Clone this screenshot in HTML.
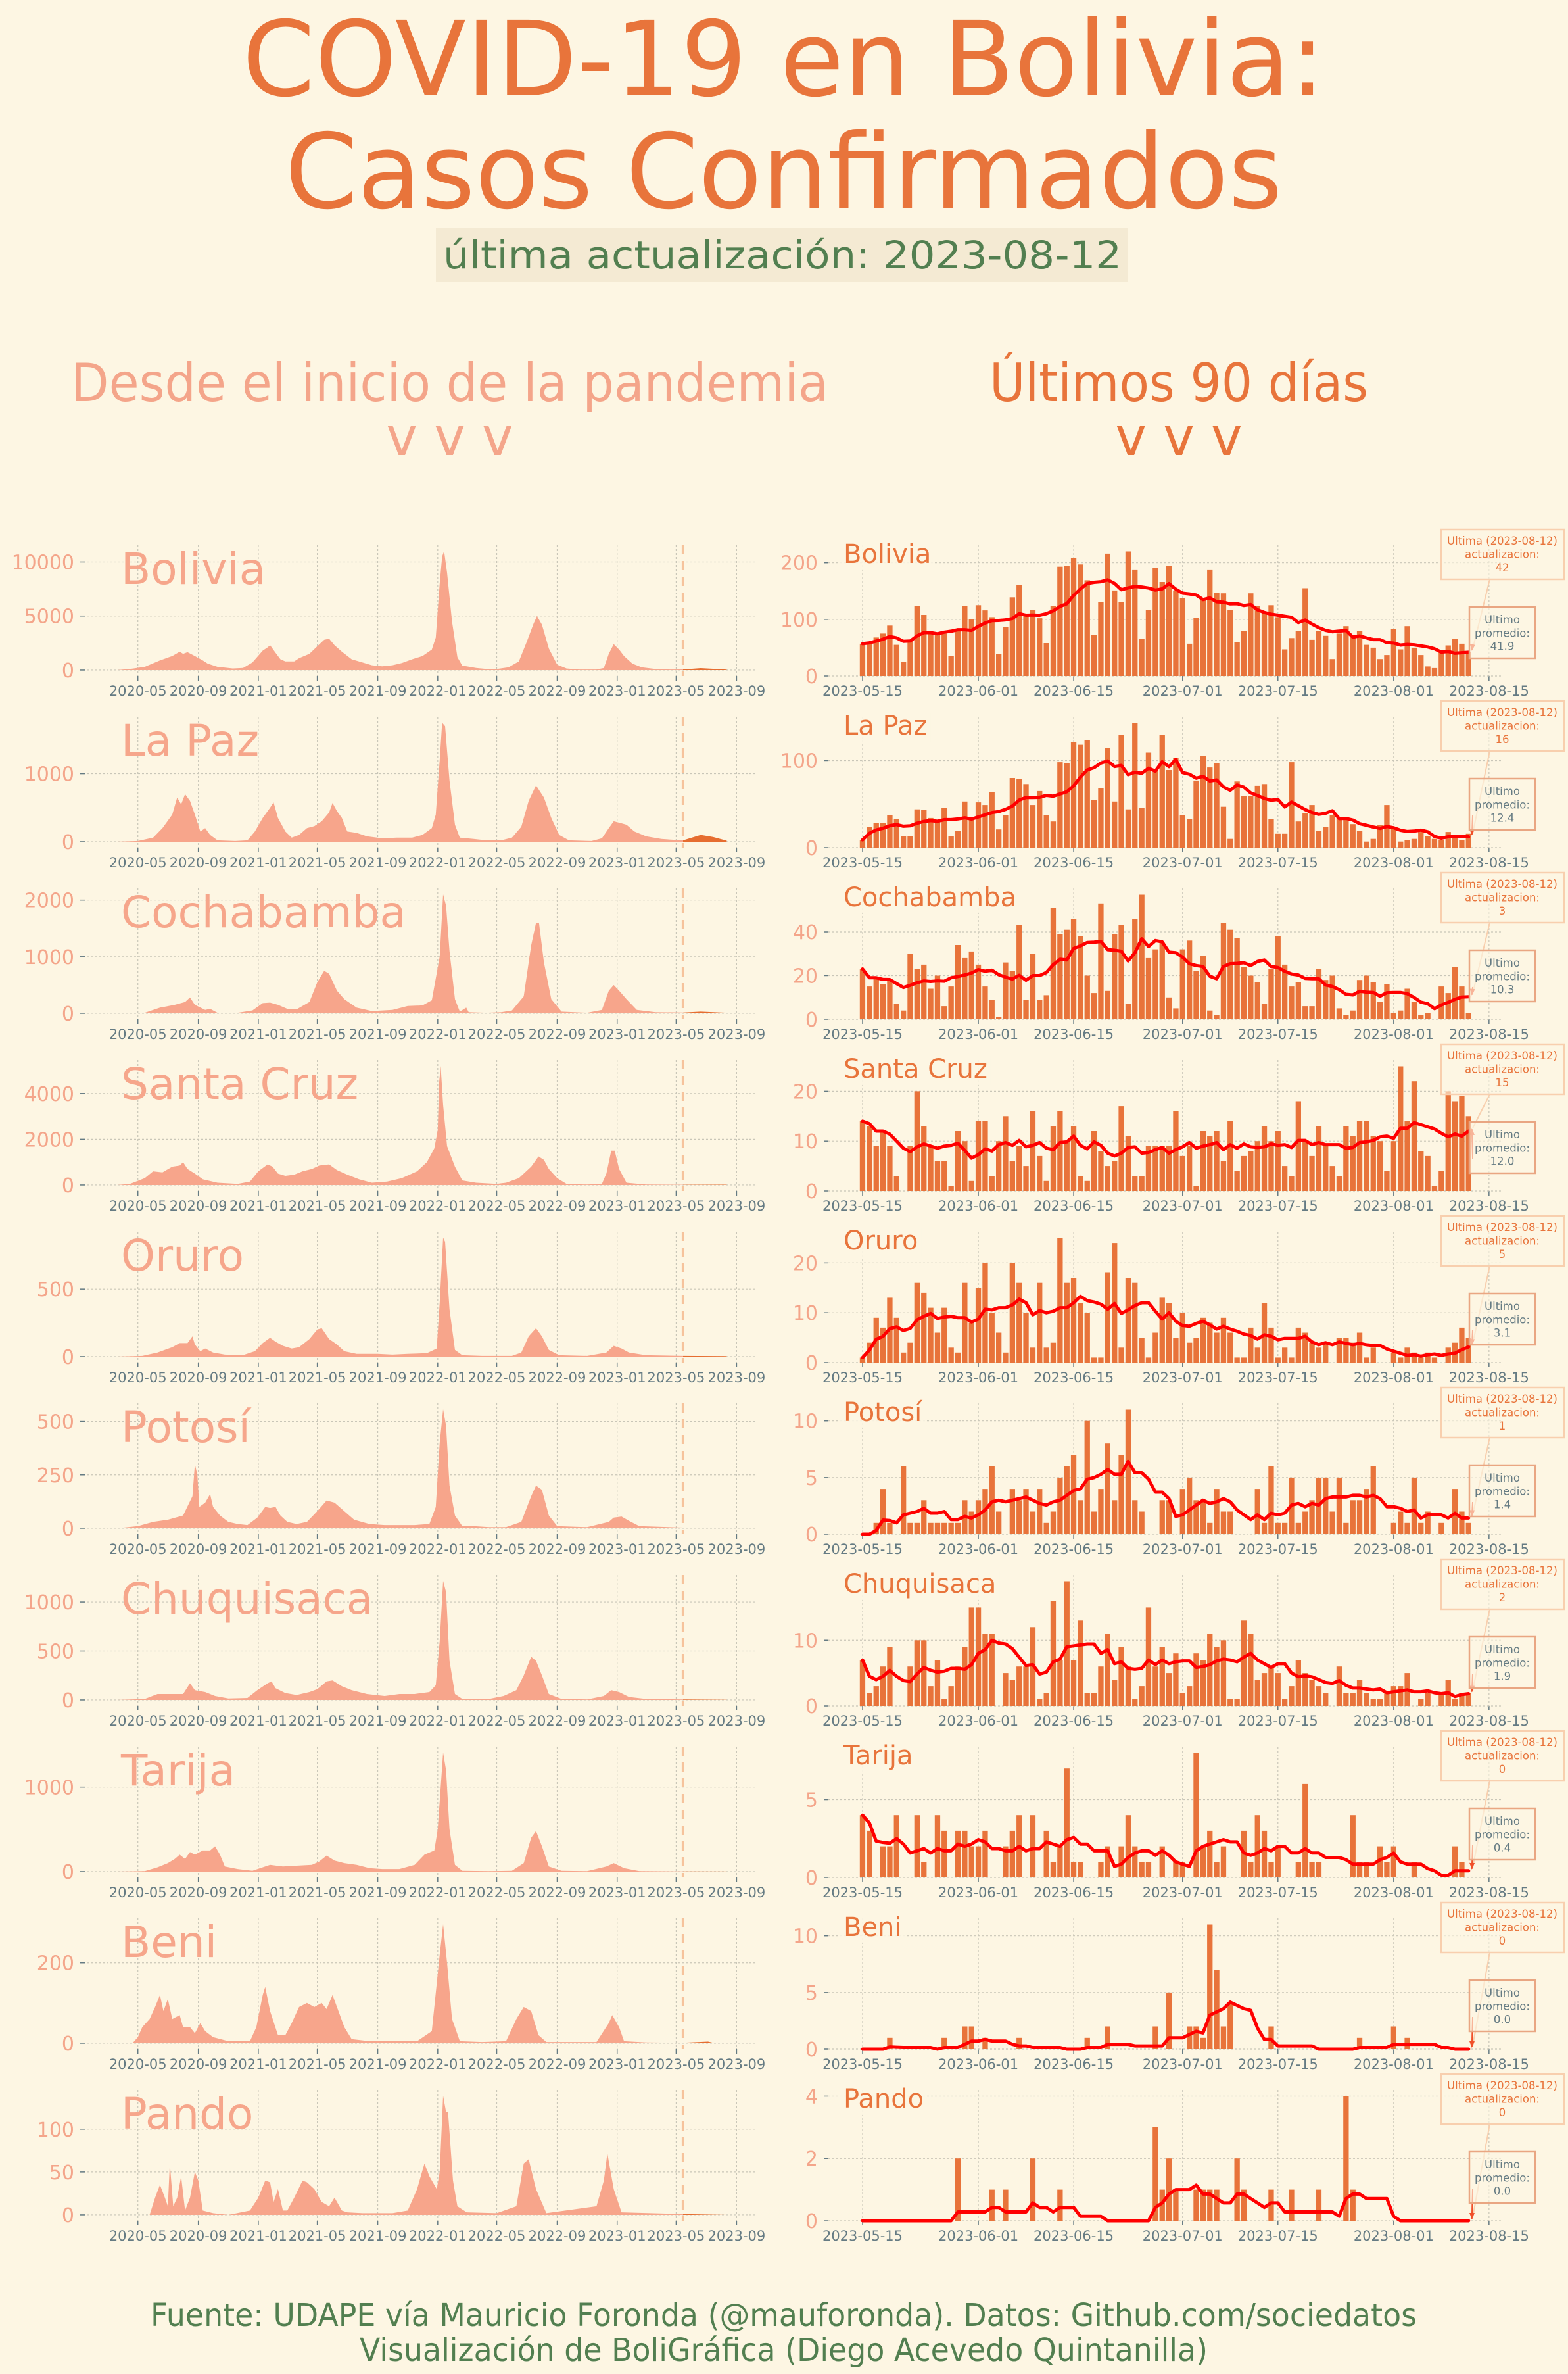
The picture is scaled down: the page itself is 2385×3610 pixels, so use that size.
<!DOCTYPE html>
<html><head><meta charset="utf-8"><title>COVID-19 en Bolivia</title>
<style>
html,body{margin:0;padding:0;background:#fdf6e3;}
svg{display:block;font-family:"DejaVu Sans","Liberation Sans",sans-serif;}
</style></head>
<body>
<svg id="chart" xmlns="http://www.w3.org/2000/svg" width="2385" height="3610" viewBox="0 0 2385 3610">
<rect x="0" y="0" width="2385" height="3610" fill="#fdf6e3"/>
<text x="1192" y="145" font-size="158" fill="#e8743b" text-anchor="middle" textLength="1647" lengthAdjust="spacingAndGlyphs">COVID-19 en Bolivia:</text>
<text x="1192" y="316" font-size="158" fill="#e8743b" text-anchor="middle">Casos Confirmados</text>
<rect x="663" y="347" width="1053" height="82" fill="#f4ead3"/>
<text x="1190" y="408" font-size="58" fill="#527f50" text-anchor="middle" textLength="1032" lengthAdjust="spacingAndGlyphs">última actualización: 2023-08-12</text>
<text x="684" y="610" font-size="80" fill="#f4a58a" text-anchor="middle" textLength="1152" lengthAdjust="spacingAndGlyphs">Desde el inicio de la pandemia</text>
<text x="684" y="692" font-size="80" fill="#f4a58a" text-anchor="middle">v v v</text>
<text x="1793" y="610" font-size="80" fill="#e8743b" text-anchor="middle" textLength="576" lengthAdjust="spacingAndGlyphs">Últimos 90 días</text>
<text x="1793" y="692" font-size="80" fill="#e8743b" text-anchor="middle">v v v</text>
<text x="1192" y="3537" font-size="48" fill="#527f50" text-anchor="middle" textLength="1926" lengthAdjust="spacingAndGlyphs">Fuente: UDAPE vía Mauricio Foronda (@mauforonda). Datos: Github.com/sociedatos</text>
<text x="1192" y="3590" font-size="48" fill="#527f50" text-anchor="middle" textLength="1290" lengthAdjust="spacingAndGlyphs">Visualización de BoliGráfica (Diego Acevedo Quintanilla)</text>
<defs>
<clipPath id="clipOld" clipPathUnits="userSpaceOnUse"><rect x="0" y="0" width="1039" height="3610"/></clipPath>
<clipPath id="clipNew" clipPathUnits="userSpaceOnUse"><rect x="1039" y="0" width="200" height="3610"/></clipPath>
<marker id="arrowHead" markerWidth="10" markerHeight="10" refX="9" refY="5" orient="auto" markerUnits="userSpaceOnUse"><path d="M0,1 L10,5 L0,9 Z" fill="#f0502a"/></marker>
</defs>
<g id="panels"></g>
</svg>
<script>
const regions=["Bolivia","La Paz","Cochabamba","Santa Cruz","Oruro","Potosí","Chuquisaca","Tarija","Beni","Pando"];
const leftYTicks=[[0,5000,10000],[0,1000],[0,1000,2000],[0,2000,4000],[0,500],[0,250,500],[0,500,1000],[0,1000],[0,200],[0,50,100]];
const rightYTicks=[[0,100,200],[0,100],[0,20,40],[0,10,20],[0,10,20],[0,5,10],[0,10],[0,5],[0,5,10],[0,2,4]];
const leftXTicks=["2020-05","2020-09","2021-01","2021-05","2021-09","2022-01","2022-05","2022-09","2023-01","2023-05","2023-09"];
const rightXTicks=["2023-05-15","2023-06-01","2023-06-15","2023-07-01","2023-07-15","2023-08-01","2023-08-15"];
const recentStart="2023-05-15";
const lastDate="2023-08-12";

const histBolivia=[["20-03-20",0],["20-04-15",100],["20-05-15",300],["20-06-15",900],["20-07-10",1300],["20-07-25",1700],["20-08-01",1500],["20-08-10",1650],["20-08-25",1300],["20-09-10",900],["20-09-20",600],["20-10-10",300],["20-11-10",150],["20-12-01",200],["20-12-20",700],["21-01-10",1800],["21-01-20",2100],["21-01-25",2300],["21-02-05",1600],["21-02-15",1000],["21-02-25",800],["21-03-15",800],["21-03-25",1100],["21-04-15",1500],["21-05-01",2200],["21-05-15",2800],["21-05-25",2900],["21-06-05",2300],["21-06-20",1700],["21-07-10",1000],["21-08-01",700],["21-08-20",450],["21-09-10",350],["21-10-01",450],["21-10-20",650],["21-11-10",1000],["21-12-01",1300],["21-12-20",1900],["21-12-28",3000],["22-01-05",8000],["22-01-10",10500],["22-01-14",11000],["22-01-20",9000],["22-01-30",4500],["22-02-10",1200],["22-02-20",400],["22-03-01",350],["22-03-20",200],["22-04-10",100],["22-05-01",100],["22-05-25",250],["22-06-15",800],["22-07-01",2600],["22-07-15",4300],["22-07-22",5000],["22-08-01",4200],["22-08-15",2000],["22-09-01",500],["22-09-20",150],["22-10-15",50],["22-11-20",50],["22-12-05",200],["22-12-15",1500],["22-12-25",2400],["23-01-05",1900],["23-01-15",1300],["23-02-01",600],["23-02-20",250],["23-03-20",100],["23-04-20",50],["23-05-15",60],["23-06-20",180],["23-07-15",120],["23-08-12",45]];
const histLaPaz=[["20-03-20",0],["20-05-01",10],["20-06-01",60],["20-06-20",200],["20-07-10",400],["20-07-20",650],["20-07-28",550],["20-08-05",700],["20-08-15",600],["20-08-25",400],["20-09-05",150],["20-09-15",200],["20-09-25",100],["20-10-10",20],["20-11-15",10],["20-12-10",20],["20-12-25",150],["21-01-10",350],["21-01-25",500],["21-02-01",580],["21-02-10",350],["21-02-25",150],["21-03-10",60],["21-03-25",100],["21-04-10",200],["21-04-25",230],["21-05-10",300],["21-05-25",430],["21-06-01",570],["21-06-10",450],["21-06-20",350],["21-07-01",150],["21-07-20",130],["21-08-10",80],["21-09-10",50],["21-10-10",60],["21-11-10",60],["21-12-01",100],["21-12-20",200],["21-12-28",400],["22-01-05",1200],["22-01-10",1750],["22-01-16",1700],["22-01-25",900],["22-02-05",250],["22-02-15",60],["22-03-15",40],["22-04-10",20],["22-05-10",20],["22-06-01",60],["22-06-20",220],["22-07-05",600],["22-07-20",830],["22-08-05",650],["22-08-20",350],["22-09-05",100],["22-09-25",20],["22-11-10",10],["22-12-01",50],["22-12-15",200],["22-12-25",300],["23-01-10",270],["23-01-20",250],["23-02-05",150],["23-03-01",80],["23-04-01",40],["23-05-15",20],["23-06-20",100],["23-07-15",70],["23-08-12",15]];
const histCochabamba=[["20-03-20",0],["20-05-15",10],["20-06-15",100],["20-07-15",150],["20-08-05",200],["20-08-15",280],["20-08-25",150],["20-09-15",60],["20-09-25",80],["20-10-10",10],["20-11-20",10],["20-12-20",50],["21-01-10",180],["21-01-25",190],["21-02-10",150],["21-03-01",80],["21-03-20",70],["21-04-15",200],["21-05-01",550],["21-05-15",750],["21-05-25",700],["21-06-10",400],["21-06-25",250],["21-07-20",100],["21-08-20",40],["21-10-01",60],["21-11-01",130],["21-12-01",140],["21-12-20",230],["22-01-05",1000],["22-01-12",2100],["22-01-18",1900],["22-01-25",1100],["22-02-05",250],["22-02-15",30],["22-02-28",100],["22-03-05",20],["22-04-10",10],["22-05-10",20],["22-06-01",50],["22-06-25",300],["22-07-10",1200],["22-07-20",1600],["22-07-26",1600],["22-08-05",900],["22-08-20",250],["22-09-10",30],["22-11-01",10],["22-12-01",60],["22-12-15",400],["22-12-25",500],["23-01-05",400],["23-01-20",250],["23-02-10",60],["23-03-20",20],["23-05-15",15],["23-06-20",30],["23-08-12",10]];
const histSantaCruz=[["20-03-20",0],["20-04-15",50],["20-05-15",300],["20-06-01",600],["20-06-20",550],["20-07-10",800],["20-07-25",850],["20-08-01",1000],["20-08-10",700],["20-08-25",500],["20-09-10",250],["20-10-10",100],["20-11-20",50],["20-12-15",150],["21-01-01",600],["21-01-20",900],["21-01-30",800],["21-02-10",500],["21-02-25",400],["21-03-15",450],["21-04-01",600],["21-04-20",700],["21-05-05",850],["21-05-25",900],["21-06-10",650],["21-07-01",450],["21-07-25",250],["21-08-20",100],["21-09-20",150],["21-10-20",300],["21-11-20",600],["21-12-10",1000],["21-12-25",1600],["22-01-01",2400],["22-01-04",4500],["22-01-07",5200],["22-01-12",3500],["22-01-20",1700],["22-02-05",800],["22-02-20",200],["22-03-20",100],["22-05-01",50],["22-05-20",100],["22-06-15",300],["22-07-10",800],["22-07-25",1250],["22-08-05",1100],["22-08-15",700],["22-09-01",300],["22-09-20",50],["22-11-01",20],["22-12-01",50],["22-12-10",500],["22-12-20",1500],["22-12-27",1500],["23-01-05",700],["23-01-20",100],["23-03-01",20],["23-05-15",10],["23-08-12",12]];
const histOruro=[["20-03-20",0],["20-05-10",5],["20-06-10",30],["20-07-10",70],["20-07-25",100],["20-08-10",100],["20-08-20",150],["20-08-25",90],["20-09-05",40],["20-09-15",60],["20-10-01",30],["20-10-25",15],["20-11-30",10],["20-12-25",40],["21-01-10",100],["21-01-25",140],["21-02-05",110],["21-02-20",80],["21-03-10",60],["21-03-25",70],["21-04-15",130],["21-05-01",200],["21-05-10",210],["21-05-25",130],["21-06-10",90],["21-06-25",40],["21-07-20",20],["21-09-01",20],["21-10-01",15],["21-11-01",20],["21-12-10",25],["21-12-30",60],["22-01-05",400],["22-01-12",880],["22-01-16",850],["22-01-25",350],["22-02-05",50],["22-02-20",10],["22-04-01",5],["22-06-01",5],["22-06-20",30],["22-07-05",150],["22-07-20",210],["22-08-01",150],["22-08-15",50],["22-09-05",10],["22-11-01",5],["22-12-10",30],["22-12-25",80],["23-01-10",60],["23-01-25",30],["23-03-01",10],["23-05-15",5],["23-08-12",3]];
const histPotosi=[["20-03-20",0],["20-05-01",10],["20-06-01",30],["20-07-01",40],["20-08-01",60],["20-08-20",150],["20-08-25",300],["20-08-30",250],["20-09-03",100],["20-09-15",120],["20-09-25",160],["20-10-01",100],["20-10-15",60],["20-11-01",30],["20-11-20",20],["20-12-10",15],["20-12-30",50],["21-01-15",100],["21-01-25",95],["21-02-05",100],["21-02-15",60],["21-03-01",30],["21-03-20",20],["21-04-10",30],["21-05-01",80],["21-05-20",130],["21-06-05",120],["21-06-25",80],["21-07-15",40],["21-08-15",20],["21-09-15",15],["21-10-15",15],["21-11-15",15],["21-12-15",20],["21-12-28",100],["22-01-05",400],["22-01-12",557],["22-01-18",480],["22-01-25",200],["22-02-05",60],["22-02-20",10],["22-03-15",10],["22-04-15",5],["22-05-20",5],["22-06-20",30],["22-07-10",150],["22-07-20",200],["22-08-01",180],["22-08-15",60],["22-09-01",10],["22-11-01",5],["22-12-15",30],["22-12-25",50],["23-01-10",55],["23-01-25",35],["23-02-15",10],["23-05-15",3],["23-08-12",2]];
const histChuquisaca=[["20-03-20",0],["20-05-15",10],["20-06-10",60],["20-07-10",60],["20-08-01",60],["20-08-15",170],["20-08-25",100],["20-09-15",80],["20-10-05",40],["20-11-01",15],["20-12-10",20],["20-12-30",100],["21-01-20",170],["21-01-28",190],["21-02-05",120],["21-02-25",70],["21-03-20",50],["21-04-15",80],["21-05-01",110],["21-05-20",190],["21-06-01",200],["21-06-20",140],["21-07-10",100],["21-08-10",60],["21-09-15",40],["21-10-15",60],["21-11-15",60],["21-12-15",80],["21-12-28",150],["22-01-05",600],["22-01-12",1215],["22-01-18",1100],["22-01-25",400],["22-02-05",60],["22-02-20",10],["22-04-15",10],["22-05-15",40],["22-06-10",100],["22-06-25",250],["22-07-10",440],["22-07-20",400],["22-08-01",250],["22-08-15",60],["22-09-10",10],["22-11-01",5],["22-12-05",40],["22-12-20",100],["23-01-05",80],["23-01-25",30],["23-03-01",10],["23-05-15",5],["23-08-12",2]];
const histTarija=[["20-03-20",0],["20-05-15",5],["20-06-10",50],["20-07-01",100],["20-07-15",150],["20-07-25",200],["20-08-05",150],["20-08-15",230],["20-08-25",200],["20-09-10",250],["20-09-25",250],["20-10-05",300],["20-10-15",200],["20-10-25",60],["20-11-20",30],["20-12-20",10],["21-01-10",50],["21-01-25",80],["21-02-20",60],["21-03-20",70],["21-04-20",80],["21-05-05",120],["21-05-20",190],["21-06-05",130],["21-06-25",100],["21-07-20",80],["21-08-15",40],["21-09-10",30],["21-10-15",30],["21-11-15",80],["21-12-05",200],["21-12-25",250],["22-01-01",500],["22-01-07",1000],["22-01-12",1410],["22-01-18",1200],["22-01-25",500],["22-02-05",80],["22-02-20",10],["22-04-15",5],["22-06-01",10],["22-06-25",100],["22-07-10",400],["22-07-20",480],["22-08-01",300],["22-08-15",60],["22-09-10",10],["22-11-01",5],["22-12-10",60],["22-12-25",100],["23-01-15",40],["23-02-15",5],["23-05-15",1],["23-08-12",0.5]];
const histBeni=[["20-03-20",0],["20-04-20",0],["20-05-01",15],["20-05-10",40],["20-05-25",60],["20-06-05",90],["20-06-15",120],["20-06-22",80],["20-07-01",110],["20-07-10",60],["20-07-25",70],["20-08-01",40],["20-08-15",40],["20-08-25",25],["20-09-05",50],["20-09-15",30],["20-10-01",15],["20-11-01",5],["20-12-15",5],["20-12-28",40],["21-01-10",120],["21-01-15",140],["21-01-25",80],["21-02-10",20],["21-02-25",20],["21-03-10",50],["21-03-25",90],["21-04-10",100],["21-04-25",90],["21-05-10",100],["21-05-20",85],["21-06-01",120],["21-06-10",90],["21-06-25",40],["21-07-10",10],["21-08-15",5],["21-10-01",5],["21-11-20",5],["21-12-20",30],["22-01-05",220],["22-01-12",296],["22-01-20",200],["22-01-30",60],["22-02-05",40],["22-02-15",5],["22-04-01",3],["22-05-20",5],["22-06-10",60],["22-06-25",90],["22-07-10",80],["22-07-25",20],["22-08-10",3],["22-11-20",3],["22-12-15",50],["22-12-22",70],["23-01-05",40],["23-01-15",5],["23-03-01",2],["23-05-15",1],["23-07-05",4],["23-07-15",1],["23-08-12",0]];
const histPando=[["20-03-20",0],["20-05-15",0],["20-05-25",0],["20-06-05",20],["20-06-15",35],["20-06-25",20],["20-07-01",10],["20-07-05",60],["20-07-12",10],["20-07-20",20],["20-07-28",45],["20-08-05",5],["20-08-15",20],["20-08-25",50],["20-09-01",40],["20-09-10",5],["20-10-01",2],["20-11-01",0],["20-12-15",5],["21-01-01",20],["21-01-15",40],["21-01-25",38],["21-02-01",15],["21-02-10",30],["21-02-20",5],["21-03-01",5],["21-03-15",20],["21-04-01",40],["21-04-10",38],["21-04-25",30],["21-05-10",15],["21-05-25",10],["21-06-05",20],["21-06-20",5],["21-07-01",3],["21-08-01",2],["21-10-01",2],["21-11-01",5],["21-11-20",30],["21-12-05",60],["21-12-15",45],["21-12-30",30],["22-01-05",50],["22-01-12",139],["22-01-18",120],["22-01-22",120],["22-02-01",40],["22-02-10",10],["22-03-01",3],["22-05-01",2],["22-06-10",10],["22-06-25",60],["22-07-05",65],["22-07-20",30],["22-08-10",2],["22-11-20",10],["22-12-05",40],["22-12-12",72],["22-12-25",30],["23-01-10",3],["23-05-15",1],["23-08-12",0]];
const histAll=[histBolivia,histLaPaz,histCochabamba,histSantaCruz,histOruro,histPotosi,histChuquisaca,histTarija,histBeni,histPando];

const dailyBolivia=[57,60,68,75,89,55,25,61,123,108,75,75,75,36,80,123,100,125,116,104,39,87,139,161,106,117,102,58,123,193,195,208,197,169,73,130,216,151,130,220,187,66,117,191,166,195,151,138,57,103,134,187,147,146,117,60,80,146,123,114,125,104,47,67,80,155,64,80,71,30,75,88,72,80,55,50,30,37,83,47,88,50,37,17,14,43,54,66,57,42];
const dailyLaPaz=[9,24,28,28,37,33,13,13,44,43,34,32,46,13,19,53,32,52,49,64,21,37,80,79,73,49,65,37,30,98,97,121,118,123,55,68,114,53,129,44,143,46,109,90,129,89,103,37,33,77,105,92,97,47,10,76,59,59,71,73,33,16,16,98,30,40,49,19,24,37,34,32,27,19,7,10,26,49,22,7,9,10,18,13,10,9,18,12,9,16];
const dailyCochabamba=[23,15,19,16,18,7,4,30,23,25,14,20,6,15,34,28,31,25,15,9,1,26,22,43,9,30,9,11,51,39,41,46,38,20,12,53,13,39,43,7,46,57,28,32,35,10,5,32,36,22,29,4,2,44,41,37,24,20,17,7,23,38,25,15,17,6,6,23,18,20,5,2,4,18,20,17,8,16,3,4,14,8,2,3,0,15,12,24,15,3];
const dailySantaCruz=[14,13,9,12,9,3,0,9,20,13,9,6,6,1,12,10,2,14,14,3,10,15,6,9,5,16,7,2,13,16,10,13,3,2,12,8,5,6,17,11,3,3,9,9,9,9,16,7,9,1,12,11,12,6,14,4,7,8,10,13,10,12,5,3,18,10,7,13,9,5,3,13,11,14,14,11,10,4,10,25,14,22,8,7,1,4,20,18,19,15];
const dailyOruro=[1,4,9,7,13,9,2,4,16,14,11,6,11,3,2,16,8,15,20,10,6,2,20,16,10,3,16,3,4,25,16,17,12,10,1,1,18,24,3,17,16,5,1,6,13,12,5,10,4,5,9,8,6,9,6,1,1,7,3,12,7,1,3,1,7,6,4,3,4,0,5,5,4,6,1,3,0,0,2,1,3,2,1,2,1,0,3,4,7,5];
const dailyPotosi=[0,0,1,4,1,0,6,1,1,3,1,1,1,1,1,3,2,3,4,6,2,0,4,3,4,2,4,1,2,5,6,7,3,10,2,4,8,3,7,11,3,2,0,0,3,3,0,4,5,3,3,1,4,2,2,0,0,0,4,1,6,1,1,5,1,2,3,5,5,2,5,1,3,3,4,6,0,0,1,2,1,5,1,2,0,1,0,4,2,1];
const dailyChuquisaca=[7,2,3,6,9,0,0,6,10,10,3,7,1,3,6,9,15,15,11,11,0,5,4,6,6,12,1,2,16,7,19,7,13,2,2,6,11,4,9,6,1,3,15,6,9,5,8,2,3,8,7,11,9,10,1,1,13,11,4,5,6,5,1,3,7,5,4,3,2,0,6,2,2,4,2,1,1,2,3,3,5,0,1,2,0,2,4,1,2,2];
const dailyTarija=[4,3,0,2,2,4,0,0,4,1,0,4,3,0,3,3,2,2,3,0,0,2,3,4,0,4,0,3,1,2,7,1,1,0,0,1,2,0,2,4,2,1,1,0,2,0,1,1,0,8,2,3,1,2,0,0,3,1,4,3,1,2,0,0,1,6,1,1,0,0,0,0,4,1,1,0,2,1,2,0,0,1,0,0,0,0,0,2,1,0];
const dailyBeni=[0,0,0,0,1,0,0,0,0,0,0,0,1,0,0,2,2,0,1,0,0,0,0,1,0,0,0,0,0,0,0,0,0,1,0,0,2,0,0,0,0,0,0,2,0,5,0,0,2,2,1,11,7,2,4,0,0,0,0,0,2,0,0,0,0,0,0,0,0,0,0,0,0,1,0,0,0,0,2,0,1,0,0,0,0,0,0,0,0,0];
const dailyPando=[0,0,0,0,0,0,0,0,0,0,0,0,0,0,2,0,0,0,0,1,0,1,0,0,0,2,0,0,0,1,0,0,0,0,0,0,0,0,0,0,0,0,0,3,1,2,1,0,0,1,1,1,1,0,0,2,1,0,0,0,1,0,0,1,0,0,0,1,0,0,0,4,1,0,0,0,0,0,0,0,0,0,0,0,0,0,0,0,0,0];
const dailyAll=[dailyBolivia,dailyLaPaz,dailyCochabamba,dailySantaCruz,dailyOruro,dailyPotosi,dailyChuquisaca,dailyTarija,dailyBeni,dailyPando];

const NS="http://www.w3.org/2000/svg";
const root=document.getElementById("panels");
function mk(tag,parent,attrs){const e=document.createElementNS(NS,tag);for(const k in attrs)e.setAttribute(k,attrs[k]);parent.appendChild(e);return e;}
function dayNum(s){return Date.parse(s+"T00:00:00Z")/864e5;}
const ROW=261, TOP0=829, AXH=199;
const GRID="#c9c6b8", TICKC="#657b83", SALMON="#f4a58a", ORANGE="#e8743b";
const leftOrigin=dayNum("2020-05-01");
function lx(s){return 209.7+(dayNum(s)-leftOrigin)*0.7477;}
const rOrigin=dayNum(recentStart);
function rx(k){return 1312+k*10.357;}
function rxDate(s){return rx(dayNum(s)-rOrigin);}
const dashX=lx(recentStart);

regions.forEach((name,i)=>{
  const T=TOP0+ROW*i, B=T+AXH;
  const lg=mk("g",root,{});
  
  
  const pts=histAll[i].map(p=>["20"+p[0],p[1]]);
  const M=Math.max(...pts.map(p=>p[1]));
  const lo=-0.05*M, hi=1.05*M;
  const ly=v=>B-(v-lo)/(hi-lo)*AXH;
  leftXTicks.forEach(t=>{
    const x=lx(t+"-01");
    const gl=mk("line",lg,{x1:x,x2:x,y1:T,y2:B,stroke:GRID,"stroke-width":1.2,"stroke-dasharray":"3,3"});
    
    
    const tk=mk("line",lg,{x1:x,x2:x,y1:B,y2:B+7,stroke:TICKC,"stroke-width":1.5});
    
    
    const tl=mk("text",lg,{x:x,y:B+30,"font-size":21,fill:TICKC,"text-anchor":"middle"});
    tl.textContent=t;
    
    
  });
  leftYTicks[i].forEach(v=>{
    const y=ly(v);
    const gl=mk("line",lg,{x1:126,x2:1152,y1:y,y2:y,stroke:GRID,"stroke-width":1.2,"stroke-dasharray":"3,3"});
    
    
    const tk=mk("line",lg,{x1:122,x2:129,y1:y,y2:y,stroke:TICKC,"stroke-width":1.5});
    
    
    const tl=mk("text",lg,{x:113,y:y+11,"font-size":30,fill:SALMON,"text-anchor":"end"});
    tl.textContent=v;
    
    
  });
  let d="M"+lx(pts[0][0])+","+ly(0);
  pts.forEach(p=>{d+=" L"+lx(p[0]).toFixed(1)+","+ly(p[1]).toFixed(1);});
  d+=" L"+lx(pts[pts.length-1][0]).toFixed(1)+","+ly(0)+" Z";
  const a1=mk("path",lg,{d:d,fill:"#f7a58b","clip-path":"url(#clipOld)"});
  
  
  const a2=mk("path",lg,{d:d,fill:"#e66d30","clip-path":"url(#clipNew)"});
  
  
  const dl=mk("line",lg,{x1:dashX,x2:dashX,y1:T,y2:B,stroke:"#f6c39c","stroke-width":4,"stroke-dasharray":"14,10"});
  
  
  const lt=mk("text",lg,{x:184,y:T+59,"font-size":66,fill:"#f6a68b"});
  lt.textContent=name;
  
  

  const rg=mk("g",root,{});
  
  
  const vals=dailyAll[i];
  const avg=vals.map((v,k)=>{const s=vals.slice(Math.max(0,k-6),k+1);return s.reduce((a,b)=>a+b,0)/s.length;});
  const RM=Math.max(...vals,...avg);
  const ry=v=>B-v/(1.05*RM)*AXH;
  rightXTicks.forEach(t=>{
    const x=rxDate(t);
    const gl=mk("line",rg,{x1:x,x2:x,y1:T,y2:B,stroke:GRID,"stroke-width":1.2,"stroke-dasharray":"3,3"});
    
    
    const tk=mk("line",rg,{x1:x,x2:x,y1:B,y2:B+7,stroke:TICKC,"stroke-width":1.5});
    
    
    const tl=mk("text",rg,{x:x,y:B+30,"font-size":21,fill:TICKC,"text-anchor":"middle"});
    tl.textContent=t;
    
    
  });
  rightYTicks[i].forEach(v=>{
    const y=ry(v);
    const gl=mk("line",rg,{x1:1260,x2:2283,y1:y,y2:y,stroke:GRID,"stroke-width":1.2,"stroke-dasharray":"3,3"});
    
    
    const tk=mk("line",rg,{x1:1254,x2:1260,y1:y,y2:y,stroke:TICKC,"stroke-width":1.5});
    
    
    const tl=mk("text",rg,{x:1244,y:y+11,"font-size":30,fill:SALMON,"text-anchor":"end"});
    tl.textContent=v;
    
    
  });
  vals.forEach((v,k)=>{
    if(v<=0)return;
    const b=mk("rect",rg,{x:(rx(k)-4.15).toFixed(1),y:ry(v).toFixed(1),width:8.3,height:(B-ry(v)).toFixed(1),fill:"#e8733a"});
    
    
  });
  const ap=avg.map((v,k)=>(k?"L":"M")+rx(k).toFixed(1)+","+ry(v).toFixed(1)).join(" ");
  const line=mk("path",rg,{d:ap,fill:"none",stroke:"#ff0000","stroke-width":5,"stroke-linejoin":"round","stroke-linecap":"round"});
  
  
  const lbg=mk("rect",rg,{x:1278,y:T-6,width:10,height:44,fill:"#fdf6e3","fill-opacity":0.85});
  
  
  const rt=mk("text",rg,{x:1283,y:T+27,"font-size":40,fill:ORANGE});
  rt.textContent=name;
  
  
  try{lbg.setAttribute("width",rt.getComputedTextLength()+10);}catch(e){}
  const lastV=vals[vals.length-1], lastA=avg[avg.length-1];
  const lastX=rx(vals.length-1), lastY=ry(lastA);
  const c1=mk("line",rg,{x1:2266,y1:T+52,x2:lastX+6,y2:lastY-4,stroke:"#f8cfae","stroke-width":2});
  
  
  const b1=mk("rect",rg,{x:2192,y:T-24,width:187,height:76,fill:"#fdf6e3","fill-opacity":0.6,stroke:"#f8cfae","stroke-width":2.5});
  
  
  ["Ultima ("+lastDate+")","actualizacion:",String(lastV)].forEach((s,j)=>{
    const t=mk("text",rg,{x:2285,y:T-1+j*20.5,"font-size":16.5,fill:ORANGE,"text-anchor":"middle"});
    t.textContent=s;
    
    
  });
  const ar=mk("line",rg,{x1:2240,y1:T+150,x2:lastX+5,y2:lastY-3,stroke:"#f0502a","stroke-width":2,"marker-end":"url(#arrowHead)"});
  
  
  const b2=mk("rect",rg,{x:2235,y:T+94,width:100,height:78,fill:"#fdf6e3","fill-opacity":0.6,stroke:"#e9a682","stroke-width":2.5});
  
  
  ["Ultimo","promedio:",lastA.toFixed(1)].forEach((s,j)=>{
    const t=mk("text",rg,{x:2285,y:T+119+j*20.3,"font-size":16.5,fill:TICKC,"text-anchor":"middle"});
    t.textContent=s;
    
    
  });
});
</script>
</body></html>
